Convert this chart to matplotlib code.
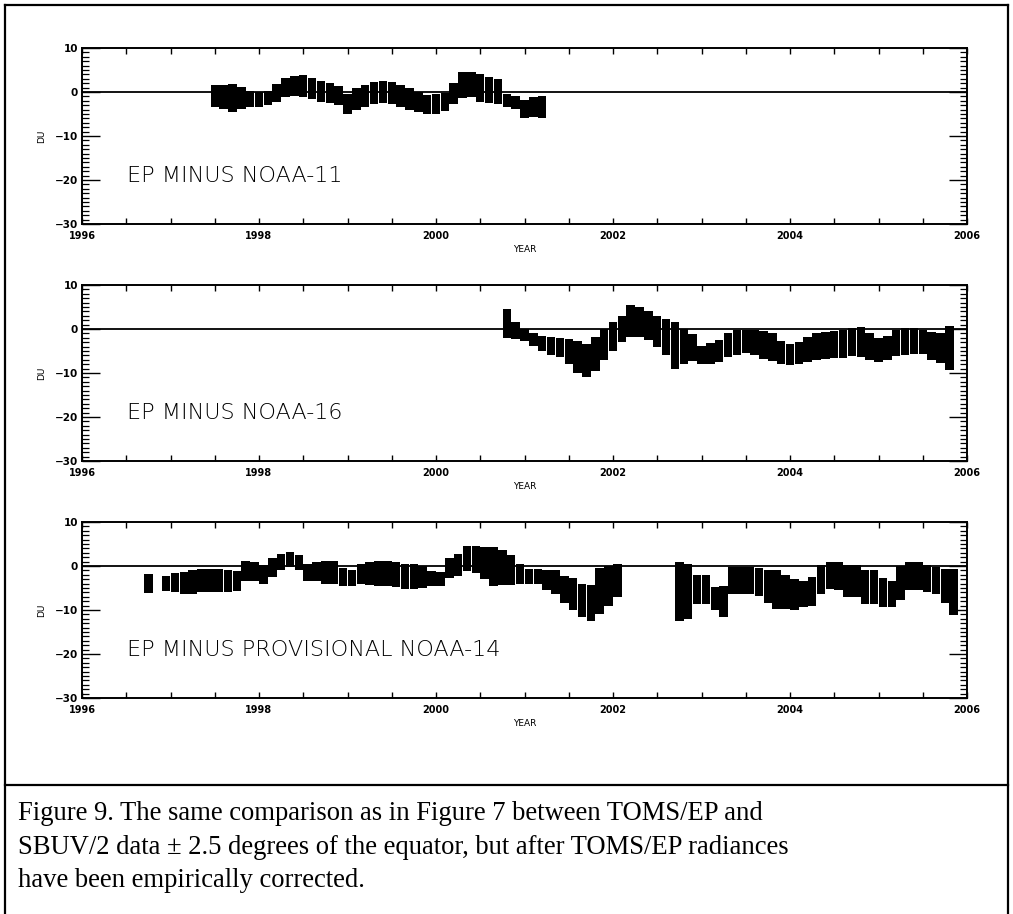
import matplotlib
matplotlib.use("Agg")
import matplotlib.pyplot as plt
from matplotlib.ticker import MultipleLocator, FixedLocator
from matplotlib.lines import Line2D

# ---------------- data ----------------
# EP minus NOAA-11 : time (decimal year), lower and upper envelope (DU)
n11_year = [1997.5, 1997.6, 1997.7, 1997.8, 1997.9, 1998.0, 1998.1, 1998.2, 1998.3, 1998.4,
            1998.5, 1998.6, 1998.7, 1998.8, 1998.9, 1999.0, 1999.1, 1999.2, 1999.3, 1999.4,
            1999.5, 1999.6, 1999.7, 1999.8, 1999.9, 2000.0, 2000.1, 2000.2, 2000.3, 2000.4,
            2000.5, 2000.6, 2000.7, 2000.8, 2000.9, 2001.0, 2001.1, 2001.2]
n11_low = [-3.3, -3.8, -4.5, -3.9, -3.3, -3.3, -3.0, -2.2, -1.2, -0.9,
           -1.2, -1.6, -2.2, -2.6, -3.0, -5.0, -4.0, -3.5, -2.8, -2.6,
           -2.8, -3.5, -4.0, -4.6, -4.9, -4.9, -4.3, -2.8, -1.3, -1.1,
           -2.2, -2.6, -2.7, -3.4, -3.8, -6.0, -5.6, -5.8]
n11_high = [1.5, 1.6, 1.9, 1.2, 0.3, 0.1, 0.3, 1.8, 3.2, 3.6,
            3.9, 3.2, 2.5, 2.0, 1.3, -0.4, 0.8, 1.6, 2.2, 2.5,
            2.3, 1.6, 1.0, 0.0, -0.6, -0.5, -0.2, 2.0, 4.6, 4.6,
            4.0, 3.5, 3.0, -0.5, -0.9, -1.9, -1.2, -1.0]

# EP minus NOAA-16
n16_year = [2000.8, 2000.9, 2001.0, 2001.1, 2001.2, 2001.3, 2001.4, 2001.5, 2001.6, 2001.7,
            2001.8, 2001.9, 2002.0, 2002.1, 2002.2, 2002.3, 2002.4, 2002.5, 2002.6, 2002.7,
            2002.8, 2002.9, 2003.0, 2003.1, 2003.2, 2003.3, 2003.4, 2003.5, 2003.6, 2003.7,
            2003.8, 2003.9, 2004.0, 2004.1, 2004.2, 2004.3, 2004.4, 2004.5, 2004.6, 2004.7,
            2004.8, 2004.9, 2005.0, 2005.1, 2005.2, 2005.3, 2005.4, 2005.5, 2005.6, 2005.7,
            2005.8]
n16_low = [-2.0, -2.2, -2.8, -3.8, -5.0, -5.8, -6.4, -8.0, -10.0, -11.0,
           -9.5, -7.0, -5.0, -3.0, -1.8, -1.8, -2.4, -4.0, -6.0, -9.0,
           -8.0, -7.2, -8.0, -7.9, -7.4, -6.4, -5.8, -5.5, -6.0, -6.8,
           -7.2, -8.0, -8.1, -8.0, -7.5, -7.0, -6.8, -6.6, -6.5, -6.2,
           -6.3, -7.0, -7.5, -7.0, -6.2, -5.8, -5.6, -5.6, -7.0, -7.8,
           -9.3]
n16_high = [4.5, 1.5, 0.0, -1.0, -1.6, -1.8, -2.0, -2.3, -2.8, -3.4,
            -1.8, 0.0, 1.6, 3.0, 5.5, 5.0, 4.2, 3.0, 2.2, 1.7,
            0.0, -1.2, -3.8, -3.2, -2.5, -0.8, -0.3, -0.2, -0.3, -0.5,
            -1.0, -2.8, -3.3, -3.0, -1.8, -1.0, -0.7, -0.5, -0.3, 0.3,
            0.5, -1.0, -2.0, -1.5, -0.2, 0.3, 0.2, -0.2, -0.6, -0.8,
            0.6]

# EP minus provisional NOAA-14
n14_year = [1996.75, 1996.95, 1997.05, 1997.15, 1997.25, 1997.35, 1997.45, 1997.55, 1997.65, 1997.75,
            1997.85, 1997.95, 1998.05, 1998.15, 1998.25, 1998.35, 1998.45, 1998.55, 1998.65, 1998.75,
            1998.85, 1998.95, 1999.05, 1999.15, 1999.25, 1999.35, 1999.45, 1999.55, 1999.65, 1999.75,
            1999.85, 1999.95, 2000.05, 2000.15, 2000.25, 2000.35, 2000.45, 2000.55, 2000.65, 2000.75,
            2000.85, 2000.95, 2001.05, 2001.15, 2001.25, 2001.35, 2001.45, 2001.55, 2001.65, 2001.75,
            2001.85, 2001.95, 2002.05,
            2002.75, 2002.85, 2002.95, 2003.05, 2003.15, 2003.25, 2003.35, 2003.45, 2003.55, 2003.65,
            2003.75, 2003.85, 2003.95, 2004.05, 2004.15, 2004.25, 2004.35, 2004.45, 2004.55, 2004.65,
            2004.75, 2004.85, 2004.95, 2005.05, 2005.15, 2005.25, 2005.35, 2005.45, 2005.55, 2005.65,
            2005.75, 2005.85]
n14_low = [-6.2, -5.6, -6.0, -6.4, -6.3, -6.0, -5.8, -6.0, -5.8, -5.6,
           -3.3, -3.3, -4.1, -2.5, -0.8, -0.3, -1.0, -3.3, -3.5, -4.1,
           -4.1, -4.5, -4.5, -4.1, -4.3, -4.5, -4.5, -4.8, -5.2, -5.2,
           -5.0, -4.5, -4.5, -2.8, -2.2, -1.1, -1.5, -3.0, -4.5, -4.4,
           -4.4, -4.2, -4.0, -4.2, -5.5, -6.3, -8.5, -10.1, -11.5, -12.4,
           -10.9, -9.0, -7.1,
           -12.4, -12.0, -8.6, -8.6, -10.0, -11.6, -6.3, -6.3, -6.3, -6.8,
           -8.5, -9.7, -9.7, -10.1, -9.3, -9.0, -6.3, -5.2, -5.5, -7.1,
           -7.1, -8.6, -8.6, -9.3, -9.3, -7.8, -5.5, -5.5, -6.0, -6.3,
           -8.5, -11.2]
n14_high = [-1.8, -2.2, -1.6, -1.4, -1.0, -0.7, -0.6, -0.7, -0.9, -1.1,
            1.2, 0.8, 0.3, 1.8, 2.8, 3.1, 2.5, 0.5, 0.8, 1.2,
            1.2, -0.5, -0.8, 0.5, 0.8, 1.2, 1.2, 0.9, 0.5, 0.5,
            0.0, -1.2, -1.4, 1.8, 2.8, 4.6, 4.5, 4.3, 4.3, 3.6,
            2.5, 0.5, -0.6, -0.6, -1.0, -1.0, -2.2, -2.8, -4.0, -4.4,
            -0.5, 0.0, 0.5,
            0.9, 0.5, -2.1, -2.1, -4.8, -4.5, -0.2, -0.2, -0.2, -0.5,
            -1.0, -1.0, -2.0, -2.9, -3.3, -2.5, 0.3, 0.9, 0.9, 0.2,
            0.2, -1.0, -1.0, -2.8, -3.3, 0.1, 0.9, 0.9, 0.3, -0.2,
            -0.6, -0.6]

panel_titles = ["EP MINUS NOAA-11", "EP MINUS NOAA-16", "EP MINUS PROVISIONAL NOAA-14"]
year_ticks = [1996, 1998, 2000, 2002, 2004, 2006]
du_ticks = [-30, -20, -10, 0, 10]
caption = ("Figure 9. The same comparison as in Figure 7 between TOMS/EP and\n"
           "SBUV/2 data \u00b1 2.5 degrees of the equator, but after TOMS/EP radiances\n"
           "have been empirically corrected.")

series = [(n11_year, n11_low, n11_high),
          (n16_year, n16_low, n16_high),
          (n14_year, n14_low, n14_high)]

# ---------------- figure ----------------
W, H = 1013, 914
fig = plt.figure(figsize=(W / 100, H / 100), dpi=100)
fig.patch.set_facecolor("white")

def fx(px):
    return px / W

def fy(py):
    return 1 - py / H

# outer frame and caption separator
frame_kw = dict(color="black", lw=1.6, transform=fig.transFigure)
fig.add_artist(Line2D([fx(5), fx(1008)], [fy(5), fy(5)], **frame_kw))
fig.add_artist(Line2D([fx(5), fx(5)], [fy(5), fy(913)], **frame_kw))
fig.add_artist(Line2D([fx(1008), fx(1008)], [fy(5), fy(913)], **frame_kw))
fig.add_artist(Line2D([fx(5), fx(1008)], [fy(785), fy(785)], **frame_kw))

ax_left, ax_right = 82, 967
panel_tops = [48, 285, 522]
panel_h = 176

for i, (yrs, lo, hi) in enumerate(series):
    top = panel_tops[i]
    ax = fig.add_axes([fx(ax_left), fy(top + panel_h), fx(ax_right - ax_left), panel_h / H])
    heights = [h - l for l, h in zip(lo, hi)]
    ax.bar(yrs, heights, bottom=lo, width=0.096, color="black", linewidth=0, align="center")
    ax.axhline(0, color="black", lw=1.3)
    ax.set_xlim(1996, 2006)
    ax.set_ylim(-30, 10)
    for s in ax.spines.values():
        s.set_linewidth(1.4)
    ax.xaxis.set_major_locator(FixedLocator(year_ticks))
    ax.xaxis.set_minor_locator(MultipleLocator(0.5))
    ax.yaxis.set_major_locator(FixedLocator(du_ticks))
    ax.yaxis.set_minor_locator(MultipleLocator(1))
    ax.set_xticklabels([str(y) for y in year_ticks])
    ax.set_yticklabels([str(v).replace("-", "\u2212") for v in du_ticks])
    ax.tick_params(axis="x", which="both", direction="in", top=True, bottom=True,
                   length=4, width=1, labelsize=7, pad=5)
    ax.tick_params(axis="y", which="major", direction="in", left=True, right=True,
                   length=13, width=1, labelsize=7.5, pad=3)
    ax.tick_params(axis="y", which="minor", direction="in", left=True, right=True,
                   length=5, width=0.9)
    for lab in ax.get_xticklabels() + ax.get_yticklabels():
        lab.set_fontweight("bold")
    ax.set_xlabel("YEAR", fontsize=6.5, labelpad=3)
    ax.set_ylabel("DU", fontsize=6.5, labelpad=6)
    ax.text(0.051, 0.27, panel_titles[i], transform=ax.transAxes, fontsize=16,
            fontweight="light", ha="left", va="center", family="DejaVu Sans")

fig.text(fx(18), fy(801), caption, ha="left", va="top", fontsize=19.2,
         family="Liberation Serif", linespacing=1.45)

fig.savefig("out.png", dpi=100, facecolor="white")
